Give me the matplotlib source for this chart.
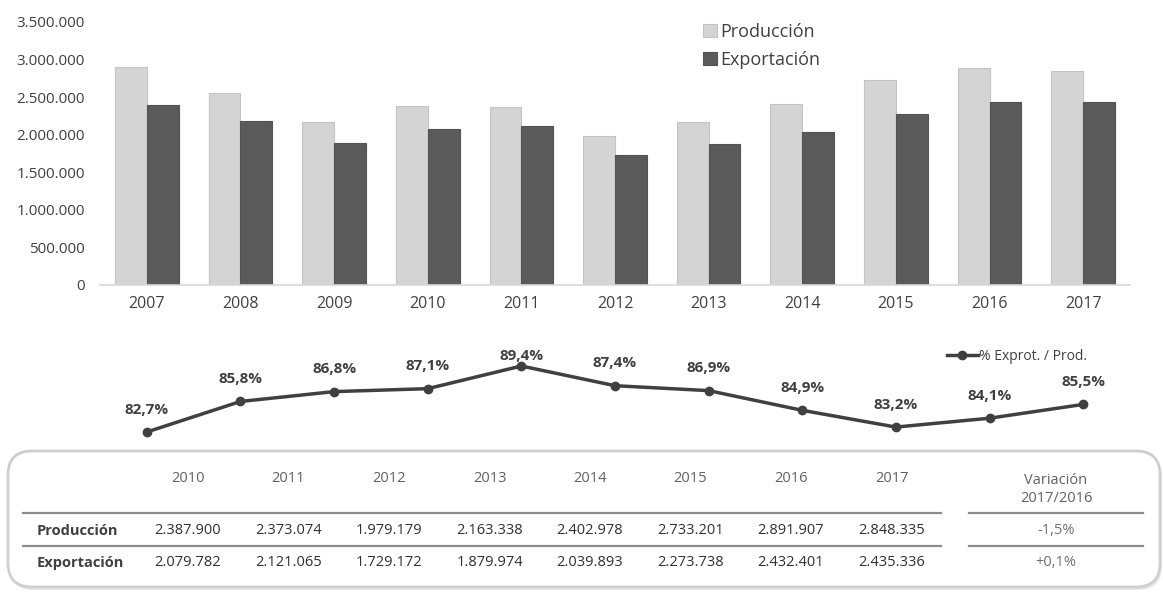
import numpy as np
import matplotlib
matplotlib.use("Agg")
import matplotlib.pyplot as plt
from matplotlib.patches import FancyBboxPatch
from matplotlib.lines import Line2D

plt.rcParams['font.family'] = ['Open Sans', 'DejaVu Sans']

# datos
years = [2007, 2008, 2009, 2010, 2011, 2012, 2013, 2014, 2015, 2016, 2017]
produccion = [2900000, 2550000, 2175000, 2387900, 2373074, 1979179, 2163338,
              2402978, 2733201, 2891907, 2848335]
exportacion = [2398000, 2188000, 1888000, 2079782, 2121065, 1729172, 1879974,
               2039893, 2273738, 2432401, 2435336]
pct_export = [82.7, 85.8, 86.8, 87.1, 89.4, 87.4, 86.9, 84.9, 83.2, 84.1, 85.5]

tabla_years = ["2010", "2011", "2012", "2013", "2014", "2015", "2016", "2017"]
tabla_prod = ["2.387.900", "2.373.074", "1.979.179", "2.163.338", "2.402.978",
              "2.733.201", "2.891.907", "2.848.335"]
tabla_exp = ["2.079.782", "2.121.065", "1.729.172", "1.879.974", "2.039.893",
             "2.273.738", "2.432.401", "2.435.336"]
variacion = ["-1,5%", "+0,1%"]

W, H = 1163, 592
TXT = "#404040"
C_PROD = "#d4d4d4"
C_EXP = "#5a5a5a"

fig = plt.figure(figsize=(W / 100, H / 100), dpi=100)

# barras
ax = fig.add_axes([100 / W, 1 - 285 / H, 1030 / W, 263 / H])
x = np.arange(len(years))
bw = 0.34
ax.bar(x - bw / 2, produccion, bw, color=C_PROD, edgecolor="#c4c4c4", lw=0.8, label="Producción")
ax.bar(x + bw / 2, exportacion, bw, color=C_EXP, edgecolor="#535353", lw=0.8, label="Exportación")
ax.set_xlim(-0.5, len(years) - 0.5)
ax.set_ylim(0, 3500000)
ax.set_yticks(np.arange(0, 3500001, 500000))
ax.yaxis.set_major_formatter(lambda v, p: f"{int(v):,}".replace(",", "."))
ax.set_xticks(x)
ax.set_xticklabels([str(y) for y in years])
for s in ["top", "right", "left"]:
    ax.spines[s].set_visible(False)
ax.spines["bottom"].set_color("#d9d9d9")
ax.spines["bottom"].set_linewidth(1.2)
ax.tick_params(axis="both", length=0, colors=TXT)
ax.tick_params(axis="x", labelsize=11.5, pad=8)
ax.tick_params(axis="y", labelsize=11, pad=11)
ax.legend(loc="upper left", bbox_to_anchor=(703 / W, 1 - 23 / H), bbox_transform=fig.transFigure,
          frameon=False, fontsize=13, handlelength=0.75, handleheight=0.75,
          handletextpad=0.2, labelspacing=0.55, borderpad=0, borderaxespad=0,
          labelcolor=TXT)

# linea % exportacion / produccion
axl = fig.add_axes([100 / W, 1 - 445 / H, 1030 / W, 105 / H])
axl.plot(x, pct_export, color="#404040", lw=2.5, marker="o", ms=6, label="% Exprot. / Prod.")
axl.set_xlim(-0.5, len(years) - 0.5)
axl.set_ylim(81.38, 92.04)
axl.axis("off")
for xi, v in zip(x, pct_export):
    off = 7 if v == max(pct_export) else 16
    axl.annotate(f"{v:.1f}%".replace(".", ","), (xi, v), xytext=(0, off),
                 textcoords="offset points", ha="center", va="center",
                 fontsize=11, fontweight="bold", color=TXT)
h = Line2D([], [], color="#404040", lw=2.5, marker="o", ms=6)
axl.legend([h], ["% Exprot. / Prod."], loc="upper left",
           bbox_to_anchor=(947 / W, 1 - 349 / H), bbox_transform=fig.transFigure,
           frameon=False, fontsize=10, handlelength=2.2, handletextpad=0.1,
           borderpad=0, borderaxespad=0, labelcolor=TXT)

# tabla
axt = fig.add_axes([0, 0, 1, 1], zorder=-1)
axt.set_xlim(0, W)
axt.set_ylim(H, 0)
axt.axis("off")
axt.add_patch(FancyBboxPatch((10, 453), 1152, 137, boxstyle="round,pad=0,rounding_size=24",
                             fc="#e6e6e6", ec="none"))
axt.add_patch(FancyBboxPatch((8, 451), 1152, 136, boxstyle="round,pad=0,rounding_size=24",
                             fc="white", ec="#cfcfcf", lw=2))

col0, dcol = 188, 100.5
y_head, y_prod, y_exp = 479, 531, 563
for i, yr in enumerate(tabla_years):
    cx = col0 + i * dcol
    axt.text(cx, y_head, yr, ha="center", va="center", fontsize=10.5, color="#606060")
    axt.text(cx, y_prod, tabla_prod[i], ha="center", va="center", fontsize=10.5, color="#303030")
    axt.text(cx, y_exp, tabla_exp[i], ha="center", va="center", fontsize=10.5, color="#303030")

axt.text(37, y_prod, "Producción", ha="left", va="center", fontsize=10.5, fontweight="bold", color=TXT)
axt.text(37, y_exp, "Exportación", ha="left", va="center", fontsize=10.5, fontweight="bold", color=TXT)

for yl in [513, 546]:
    axt.plot([23, 941], [yl, yl], color="#8c8c8c", lw=1.6)
    axt.plot([969, 1143], [yl, yl], color="#8c8c8c", lw=1.6)

vx = 1056
axt.text(vx, 481, "Variación", ha="center", va="center", fontsize=10.5, color="#606060")
axt.text(vx, 499, "2017/2016", ha="center", va="center", fontsize=10.5, color="#606060")
axt.text(vx, y_prod, variacion[0], ha="center", va="center", fontsize=10.5, color="#707070")
axt.text(vx, y_exp, variacion[1], ha="center", va="center", fontsize=10.5, color="#707070")

fig.savefig("out.png", dpi=100)
